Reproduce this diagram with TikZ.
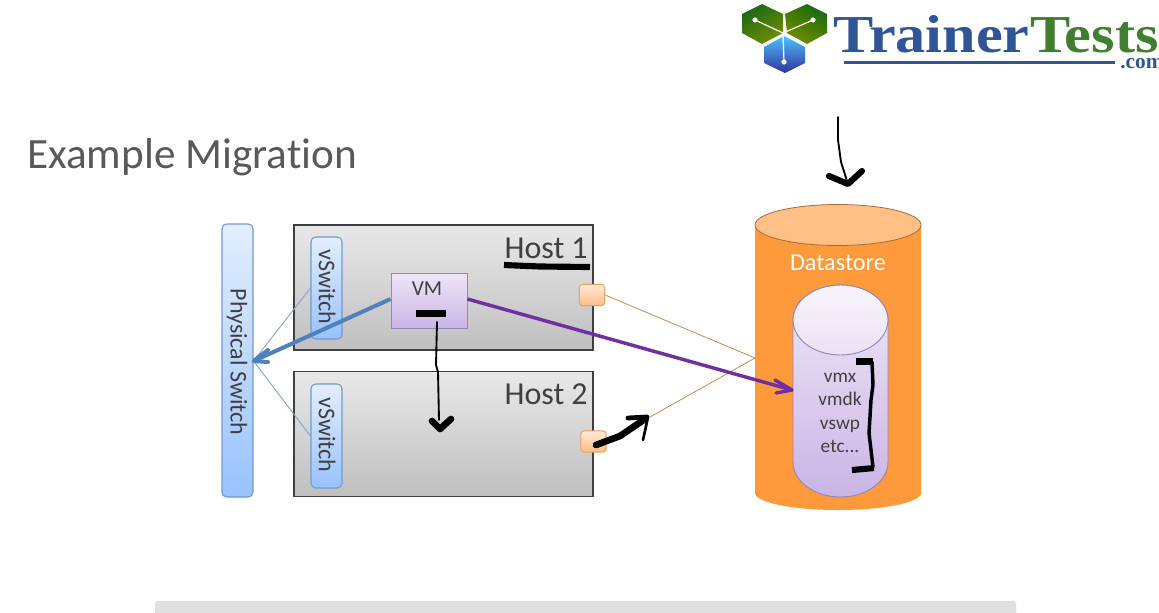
\documentclass[tikz,border=0pt]{standalone}
\usepackage{fontspec}
\setmainfont{Carlito}[Ligatures=NoCommon]
\newfontfamily\logofont[FakeStretch=1.13]{Liberation Serif}
\newfontfamily\logodot{Liberation Serif}
\usetikzlibrary{calc}
\definecolor{inkgray}{HTML}{404040}
\definecolor{titlegray}{HTML}{595959}
\definecolor{hostedge}{HTML}{3F3F3F}
\definecolor{swedge}{HTML}{6F9BD1}
\definecolor{thinln}{HTML}{8AA5C8}
\definecolor{swtop}{HTML}{E3EEFF}
\definecolor{swbot}{HTML}{99C2FF}
\definecolor{vmtop}{HTML}{EFE6F7}
\definecolor{vmbot}{HTML}{C9B5E6}
\definecolor{vmedge}{HTML}{9586B5}
\definecolor{dsorange}{HTML}{FF9A3C}
\definecolor{dstop}{HTML}{FFBF85}
\definecolor{dsline}{HTML}{C98A4B}
\definecolor{nictop}{HTML}{FFE9D6}
\definecolor{nicbot}{HTML}{FFBE85}
\definecolor{nicedge}{HTML}{E8A060}
\definecolor{armblue}{HTML}{4F81BD}
\definecolor{armpurple}{HTML}{7030A0}
\definecolor{logoblue}{HTML}{2F5597}
\definecolor{logogreen}{HTML}{3F7F2F}
\tikzset{
  hostbox/.style={draw=hostedge,line width=.8pt,top color=gray!18,bottom color=gray!50,minimum width=224.25pt,minimum height=93.75pt,inner sep=0pt},
  swbox/.style={draw=swedge,line width=.8pt,rounded corners=3.5pt,top color=swtop,bottom color=swbot,inner sep=0pt},
  vmbox/.style={draw=vmedge,line width=.7pt,top color=vmtop,bottom color=vmbot,minimum width=57pt,minimum height=41.25pt,inner sep=0pt},
  nicbox/.style={draw=nicedge,line width=.7pt,rounded corners=2.5pt,top color=nictop,bottom color=nicbot,minimum width=19pt,minimum height=16pt,inner sep=0pt},
  thinblue/.style={draw=thinln,line width=.7pt},
  thinbrown/.style={draw=dsline,line width=.6pt},
  ink/.style={draw=black,line cap=round,line join=round},
  label/.style={text=inkgray,inner sep=0pt},
}
\begin{document}
\begin{tikzpicture}[x=.75pt,y=-.75pt]
\useasboundingbox (0,0) rectangle (1159,612);
\fill[white] (0,0) rectangle (1159,612);
% footer bar
\fill[gray!25,rounded corners=2pt] (155,601) rectangle (1016,620);
% logo
\begin{scope}
\clip (0,0) rectangle (1159,612);
\shade[left color=green!35!black!90,right color=olive!90!green,shading angle=30] (762,4) -- (783,14) -- (783,33) -- (762,44) -- (742,33) -- (742,14) -- cycle;
\shade[right color=green!35!black!90,left color=olive!90!green,shading angle=150] (807,4) -- (827,14) -- (827,33) -- (807,44) -- (787,33) -- (785,14) -- cycle;
\shade[top color=blue!35!cyan!70!white,bottom color=blue!50!black!80] (784,36) -- (805,47) -- (805,63) -- (785,73) -- (764,63) -- (764,47) -- cycle;
\draw[white,line width=.9pt] (755,20) -- (783,33) -- (813,20) (783,33) -- (784,62);
\fill[white] (755,20) circle (2.6) (813,20) circle (2.6) (784,62) circle (2.6);
\node[anchor=base west,inner sep=0pt,text=logoblue,font=\logofont\bfseries\fontsize{40}{40}\selectfont] (logoa) at (833,52) {Trainer};
\node[anchor=base west,inner sep=0pt,text=logogreen,font=\logofont\bfseries\fontsize{40}{40}\selectfont] (logob) at (1030,52) {Tests};
\fill[logoblue] (844,60.5) rectangle (1115,64);
\node[anchor=base west,inner sep=0pt,text=logoblue,font=\logodot\bfseries\fontsize{16}{16}\selectfont] (logoc) at (1120,68) {.com};
\end{scope}
% title
\node[anchor=base west,inner sep=0pt,text=titlegray,font=\fontsize{32.4}{32.4}\selectfont] (title) at (27,168) {Example Migration};
% physical switch
\node[swbox,minimum width=23.25pt,minimum height=204.75pt] (phys) at (237.5,360.5) {};
\node[label,rotate=-90,font=\fontsize{18}{18}\selectfont] (physt) at (237,362) {Physical Switch};
% hosts
\node[hostbox] (host1) at (443.5,287.5) {};
\node[hostbox] (host2) at (443.5,434) {};
\node[label,anchor=base east,font=\fontsize{24}{24}\selectfont] (h1t) at (588,258) {Host 1};
\node[label,anchor=base east,font=\fontsize{24}{24}\selectfont] (h2t) at (588,404) {Host 2};
% vswitches
\node[swbox,minimum width=23.25pt,minimum height=76.5pt] (vs1) at (326.5,288) {};
\node[swbox,minimum width=23.25pt,minimum height=78pt] (vs2) at (326.5,436) {};
\node[label,rotate=-90,font=\fontsize{18}{18}\selectfont] (vs1t) at (327,287) {vSwitch};
\node[label,rotate=-90,font=\fontsize{18}{18}\selectfont] (vs2t) at (327,435) {vSwitch};
% datastore
\fill[dsorange] (755,225) -- (755,493) arc[start angle=180,end angle=360,x radius=83,y radius=-17] -- (921,225) -- cycle;
\draw[draw=dsline!80!black,line width=.6pt,fill=dstop] (838,225) ellipse [x radius=83,y radius=20.5];
\node[inner sep=0pt,text=white,font=\fontsize{18.2}{18.2}\selectfont] (dst) at (838,263) {Datastore};
% inner disk
\path[draw=vmedge,line width=.7pt,top color=vmtop,bottom color=vmbot] (793,320) -- (793,462) arc[start angle=180,end angle=360,x radius=47.5,y radius=-35] -- (888,320) arc[start angle=0,end angle=180,x radius=47.5,y radius=-35] -- cycle;
\draw[draw=vmedge,line width=.7pt,top color=white!60!vmtop,bottom color=vmtop!90!vmbot] (840.5,320) ellipse [x radius=47.5,y radius=35];
\node[label,align=center,font=\fontsize{14.5}{17.6}\selectfont] (files) at (840,413) {vmx\\vmdk\\vswp\\etc...};
\coordinate (dsport) at (755,358);
\coordinate (disk) at (792,390);
\coordinate (armend) at (650,417);
% VM and NICs
\node[vmbox] (vm) at (429,300.5) {};
\node[label,font=\fontsize{16}{16}\selectfont] (vmt) at (427,289) {VM};
\node[nicbox] (nic1) at (592,295) {};
\node[nicbox] (nic2) at (593.5,441.5) {};
% thin links
\draw[thinblue] (phys.east |- 0,361) coordinate (pj) -- (vs1.west |- 0,288);
\draw[thinblue] (pj) -- (vs2.west |- 0,436);
\draw[thinbrown] (nic1.east) -- (dsport);
\draw[thinbrown] (armend) -- (dsport);
% coloured arrows
\draw[draw=armblue,line width=3pt] (vm.west |- 0,299) -- (pj);
\draw[draw=armblue,line width=3pt,line cap=round,line join=round] (268,350) -- (pj) -- (268,362);
\draw[draw=armpurple,line width=2.6pt] (vm.east |- 0,299) -- (disk);
\draw[draw=armpurple,line width=2.6pt,line cap=round,line join=round] (775,380) -- (disk) -- (776,393);
% hand-drawn ink
\draw[ink,line width=1.4pt] (838,117) -- (838,140) -- (841,162) -- (848,184);
\draw[ink,line width=4.6pt] (829,176) -- (848,184) -- (862,171);
\draw[ink,line width=4.6pt,line cap=butt] (504,265) -- (540,266.5) -- (590,267);
\fill[black] (416,310) rectangle (446,317);
\draw[ink,line width=1.4pt] (437,322) -- (436,365) -- (438,372) -- (439,420);
\draw[ink,line width=5pt] (432,421) -- (440,429) -- (451,419);
\draw[ink,line width=5pt] (596,445) -- (620,436) -- (645,419);
\draw[ink,line width=3.6pt] (628,418) -- (647,417);
\draw[ink,line width=2pt] (648,417) -- (643,440);
\draw[ink,line width=4.6pt,line cap=butt] (856,361.5) -- (873,361.5);
\draw[ink,line width=2.6pt] (872,362) -- (873,385) -- (871,400) -- (869,433) -- (871,450) -- (873,467);
\draw[ink,line width=4.6pt,line cap=butt] (852,470) -- (874,468);
\end{tikzpicture}
\end{document}
